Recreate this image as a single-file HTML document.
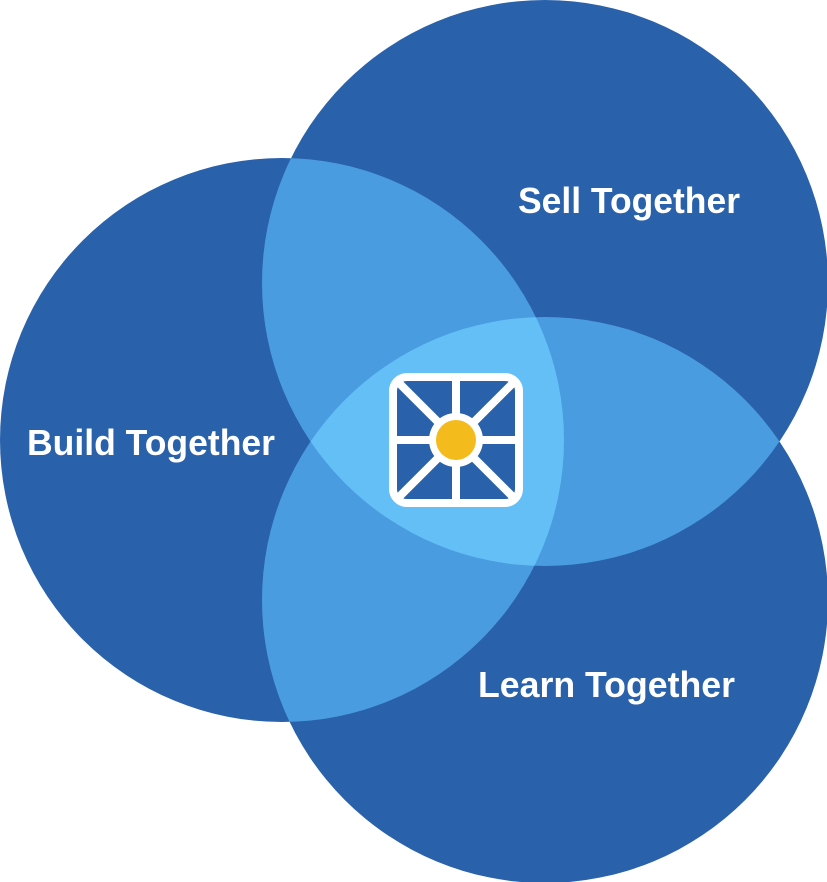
<!DOCTYPE html>
<html><head><meta charset="utf-8"><style>
html,body{margin:0;padding:0;background:#fff;}
svg{display:block;}
text{font-family:"Liberation Sans",sans-serif;font-weight:bold;fill:#fff;}
</style></head><body>
<svg width="827" height="882" viewBox="0 0 827 882" xmlns="http://www.w3.org/2000/svg">
<defs>
<clipPath id="cL"><circle cx="282" cy="440" r="282"/></clipPath>
<clipPath id="cT"><circle cx="545" cy="283" r="283"/></clipPath>
<clipPath id="cB"><circle cx="545" cy="600" r="283"/></clipPath>
</defs>
<circle cx="282" cy="440" r="282" fill="#2961AB"/>
<circle cx="545" cy="283" r="283" fill="#2961AB"/>
<circle cx="545" cy="600" r="283" fill="#2961AB"/>
<g clip-path="url(#cL)"><circle cx="545" cy="283" r="283" fill="#4A9CE1"/><circle cx="545" cy="600" r="283" fill="#4A9CE1"/></g>
<g clip-path="url(#cT)"><circle cx="545" cy="600" r="283" fill="#4A9CE1"/></g>
<g clip-path="url(#cL)"><g clip-path="url(#cT)"><circle cx="545" cy="600" r="283" fill="#63BFF6"/></g></g>
<rect x="393" y="377" width="126" height="126" rx="14" fill="#2961AB" stroke="#fff" stroke-width="8"/>
<g stroke="#fff" stroke-width="8">
<line x1="456" y1="377" x2="456" y2="503"/>
<line x1="393" y1="440" x2="519" y2="440"/>
<line x1="398" y1="382" x2="514" y2="498"/>
<line x1="514" y1="382" x2="398" y2="498"/>
</g>
<circle cx="456" cy="440" r="27" fill="#fff"/>
<circle cx="456" cy="440" r="20" fill="#F3BB1C"/>
<text x="518" y="213" font-size="36" textLength="222" lengthAdjust="spacingAndGlyphs">Sell Together</text>
<text x="27" y="455" font-size="36" textLength="248" lengthAdjust="spacingAndGlyphs">Build Together</text>
<text x="478" y="697" font-size="36" textLength="257" lengthAdjust="spacingAndGlyphs">Learn Together</text>
</svg>
</body></html>
